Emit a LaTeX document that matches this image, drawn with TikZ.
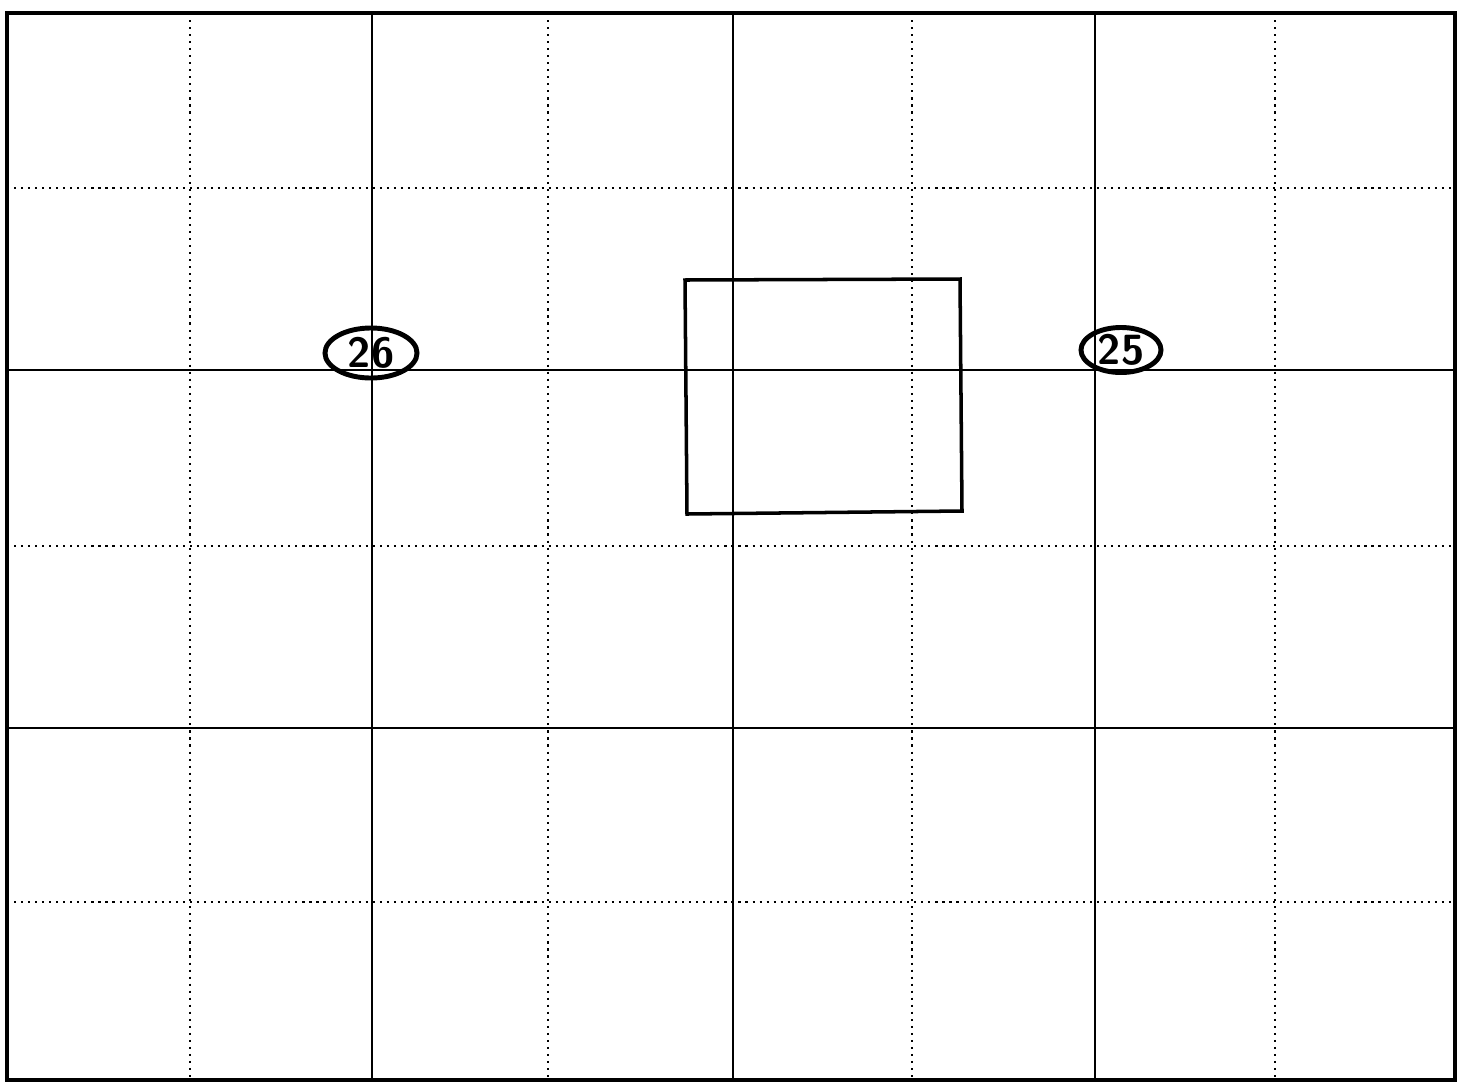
\documentclass[tikz,border=0pt]{standalone}
\usepackage{tikz}
\usetikzlibrary{shapes.geometric}

\tikzset{
  major/.style={line width=0.6pt},
  minor/.style={line width=0.6pt, dash pattern=on 0.6pt off 1.4pt},
  tag/.style={draw, ellipse, line width=1.4pt, inner sep=0pt, font=\large\bfseries\sffamily}
}

\begin{document}
\begin{tikzpicture}[x=0.01cm,y=-0.01cm]
\useasboundingbox (0,0) rectangle (1460,1084);

%minor grid
\foreach \x in {190,548,912,1275} \draw[minor] (\x,13) -- (\x,1080);
\foreach \y in {188,546,902} \draw[minor] (7,\y) -- (1455,\y);

%major grid
\foreach \x in {372,733,1095} \draw[major] (\x,13) -- (\x,1080);
\foreach \y in {370,728} \draw[major] (7,\y) -- (1455,\y);

%border
\draw[line width=1.2pt] (7,13) rectangle (1455,1080);

%box
\draw[line width=1pt] (685,280) -- (960,279) -- (962,511) -- (687,514) -- cycle;

%tags
\node[tag, minimum width=0.92cm, minimum height=0.5cm] (t26) at (371,353) {26};
\node[tag, minimum width=0.8cm, minimum height=0.45cm] (t25) at (1121,350) {25};

\end{tikzpicture}
\end{document}
